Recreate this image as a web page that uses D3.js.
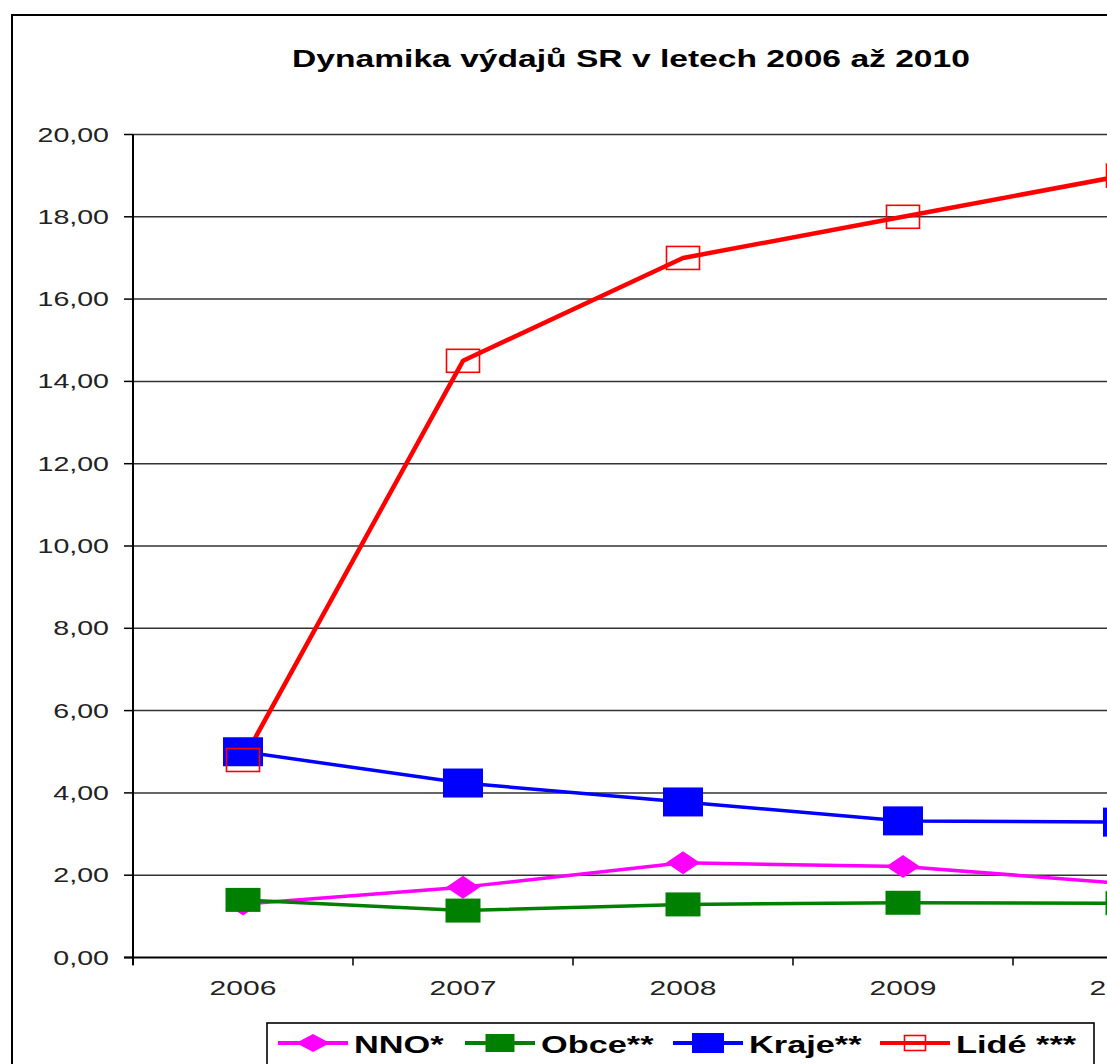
<!DOCTYPE html>
<html><head><meta charset="utf-8">
<script src="https://cdn.jsdelivr.net/npm/d3@7"></script>
<style>html,body{margin:0;padding:0;overflow:hidden;background:#fff}svg{display:block}</style>
</head><body>
<script>
const title = "Dynamika výdajů SR v letech 2006 až 2010";
const categories = ["2006","2007","2008","2009","2010"];
const yTicks = [0,2,4,6,8,10,12,14,16,18,20];
const seriesNames = ["NNO*","Obce**","Kraje**","Lidé ***"];
const nno   = [1.30, 1.71, 2.30, 2.21, 1.80];
const obce  = [1.40, 1.14, 1.29, 1.33, 1.32];
const kraje = [5.00, 4.24, 3.78, 3.32, 3.29];
const lide  = [4.80, 14.50, 17.00, 18.00, 19.00];

const SX = 1.43; // horizontal stretch of the original picture
const W = 1107, H = 1064;
const svg = d3.select("body").append("svg").attr("width", W).attr("height", H);

const series = [
  {name: seriesNames[0], values: nno,   color: "#FF00FF", width: 3.5, marker: "diamond", mw: 34, mh: 23, lmw: 34, lmh: 18},
  {name: seriesNames[1], values: obce,  color: "#008000", width: 3.5, marker: "square", mw: 35, mh: 24, lmw: 29, lmh: 18},
  {name: seriesNames[2], values: kraje, color: "#0000FF", width: 3.5, marker: "square", mw: 40, mh: 29, lmw: 32, lmh: 20},
  {name: seriesNames[3], values: lide,  color: "#FF0000", width: 4.5, marker: "hollow", mw: 33, mh: 23, lmw: 21, lmh: 15}
];

const x = d3.scaleBand().domain(categories).range([133, 1233]).padding(0);
const y = d3.scaleLinear().domain([0, 20]).range([957.5, 134.5]);
const cx = c => x(c) + x.bandwidth() / 2;

// outer frame
svg.append("rect").attr("x", 12).attr("y", 15).attr("width", 1400).attr("height", 1200)
  .attr("fill", "none").attr("stroke", "#000").attr("stroke-width", 2);

function stretchedText(g, tx, ty, txt, opts) {
  return g.append("text")
    .attr("transform", `translate(${tx},${ty}) scale(${SX},1)`)
    .attr("text-anchor", opts.anchor || "start")
    .attr("font-family", "Arial, 'Liberation Sans', sans-serif")
    .attr("font-size", opts.size)
    .attr("font-weight", opts.weight || "normal")
    .attr("fill", opts.fill || "#000")
    .text(txt);
}

// title
stretchedText(svg, 631, 67, title, {anchor: "middle", size: 23.5, weight: "bold"});

// gridlines
svg.append("g").selectAll("line").data(yTicks.filter(d => d > 0)).join("line")
  .attr("x1", 133).attr("x2", 1233).attr("y1", d => y(d)).attr("y2", d => y(d))
  .attr("stroke", "#333").attr("stroke-width", 1.5);

// y axis
svg.append("line").attr("x1", 133).attr("x2", 133).attr("y1", y(20)).attr("y2", 965)
  .attr("stroke", "#000").attr("stroke-width", 2);
svg.append("g").selectAll("line").data(yTicks).join("line")
  .attr("x1", 124).attr("x2", 133).attr("y1", d => y(d)).attr("y2", d => y(d))
  .attr("stroke", "#000").attr("stroke-width", 1.5);
const yl = svg.append("g");
yTicks.forEach(d => stretchedText(yl, 109, y(d) + 7, d.toFixed(2).replace(".", ","), {anchor: "end", size: 20, fill: "#222"}));

// x axis
svg.append("line").attr("x1", 124).attr("x2", 1233).attr("y1", y(0)).attr("y2", y(0))
  .attr("stroke", "#000").attr("stroke-width", 2);
const bounds = categories.map(c => x(c)).concat([x.range()[1]]);
svg.append("g").selectAll("line").data(bounds).join("line")
  .attr("x1", d => d).attr("x2", d => d).attr("y1", y(0)).attr("y2", y(0) + 8)
  .attr("stroke", "#000").attr("stroke-width", 1.5);
const xl = svg.append("g");
categories.forEach(c => stretchedText(xl, cx(c), 995, c, {anchor: "middle", size: 21, fill: "#222"}));

// lines
const line = d3.line().x((d, i) => cx(categories[i])).y(d => y(d));
series.forEach(s => {
  svg.append("path").attr("d", line(s.values)).attr("fill", "none")
    .attr("stroke", s.color).attr("stroke-width", s.width).attr("stroke-linejoin", "round");
});

function drawMarker(g, s, px, py, w, h) {
  if (s.marker === "diamond") {
    g.append("path").attr("d", `M${px},${py - h / 2}L${px + w / 2},${py}L${px},${py + h / 2}L${px - w / 2},${py}Z`)
      .attr("fill", s.color);
  } else if (s.marker === "square") {
    g.append("rect").attr("x", px - w / 2).attr("y", py - h / 2).attr("width", w).attr("height", h)
      .attr("fill", s.color);
  } else {
    g.append("rect").attr("x", px - w / 2).attr("y", py - h / 2).attr("width", w).attr("height", h)
      .attr("fill", "none").attr("stroke", s.color).attr("stroke-width", 1.6);
  }
}

// markers
const mg = svg.append("g");
series.forEach(s => s.values.forEach((v, i) => drawMarker(mg, s, cx(categories[i]), y(v), s.mw, s.mh)));

// legend
const lg = svg.append("g");
lg.append("rect").attr("x", 267).attr("y", 1023).attr("width", 827).attr("height", 80)
  .attr("fill", "#fff").attr("stroke", "#000").attr("stroke-width", 1.6);
const legendX = [278, 465, 673, 880];
series.forEach((s, i) => {
  const lx = legendX[i], ly = 1043;
  lg.append("line").attr("x1", lx).attr("x2", lx + 70).attr("y1", ly).attr("y2", ly)
    .attr("stroke", s.color).attr("stroke-width", 4);
  drawMarker(lg, s, lx + 35, ly, s.lmw, s.lmh);
  stretchedText(lg, lx + 76, 1053, s.name, {size: 24, weight: "bold"});
});
</script>
</body></html>
